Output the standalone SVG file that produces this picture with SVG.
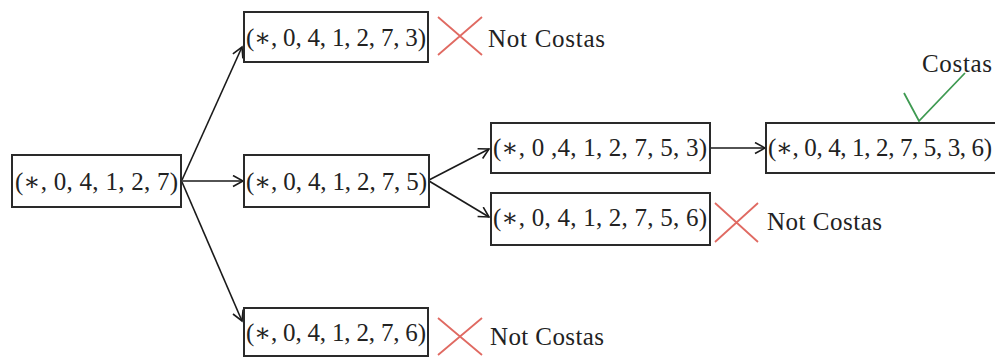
<svg xmlns="http://www.w3.org/2000/svg" width="995" height="358" viewBox="0 0 995 358">
<style>
.box{fill:#fff;stroke:#2a2a2a;stroke-width:2}
.t{font-family:"Liberation Serif","DejaVu Serif",serif;font-size:25px;fill:#222}
.lbl{font-family:"Liberation Serif","DejaVu Serif",serif;font-size:25px;fill:#222}
.edge{stroke:#1a1a1a;stroke-width:1.6;fill:none;marker-end:url(#ah)}
.x{stroke:#e06a62;stroke-width:1.8;fill:none}
.ok{stroke:#3f9a52;stroke-width:1.8;fill:none}
</style>
<defs>
<marker id="ah" markerUnits="userSpaceOnUse" markerWidth="14" markerHeight="14" refX="11" refY="6" orient="auto">
<path d="M1,0.5 L11,6 L1,11.5" fill="none" stroke="#1a1a1a" stroke-width="1.6"/>
</marker>
</defs>
<rect width="995" height="358" fill="#fff"/>
<g id="connectors">
<line class="edge" x1="182" y1="180" x2="242" y2="47"/>
<line class="edge" x1="182" y1="181" x2="243" y2="181"/>
<line class="edge" x1="182" y1="182" x2="242" y2="321"/>
<line class="edge" x1="429" y1="180" x2="489" y2="149"/>
<line class="edge" x1="429" y1="181" x2="489" y2="217"/>
<line class="edge" x1="710" y1="148" x2="765" y2="148"/>
</g>
<g id="n0">
<rect class="box" x="12" y="155" width="169" height="52"/>
<text class="t" x="15" y="190" textLength="163">(∗, 0, 4, 1, 2, 7)</text>
</g>
<g id="n1">
<rect class="box" x="244" y="12" width="184" height="50"/>
<text class="t" x="246" y="46" textLength="180">(∗, 0, 4, 1, 2, 7, 3)</text>
</g>
<g id="n2">
<rect class="box" x="244" y="155" width="185" height="52"/>
<text class="t" x="246" y="190" textLength="181">(∗, 0, 4, 1, 2, 7, 5)</text>
</g>
<g id="n3">
<rect class="box" x="244" y="308" width="184" height="48"/>
<text class="t" x="246" y="341" textLength="180">(∗, 0, 4, 1, 2, 7, 6)</text>
</g>
<g id="n4">
<rect class="box" x="491" y="123" width="219" height="50"/>
<text class="t" x="493" y="156" textLength="214">(∗, 0 ,4, 1, 2, 7, 5, 3)</text>
</g>
<g id="n5">
<rect class="box" x="491" y="193" width="219" height="52"/>
<text class="t" x="493" y="226" textLength="214">(∗, 0, 4, 1, 2, 7, 5, 6)</text>
</g>
<g id="n6">
<rect class="box" x="766" y="123" width="240" height="50"/>
<text class="t" x="768" y="156" textLength="224">(∗, 0, 4, 1, 2, 7, 5, 3, 6)</text>
</g>
<g id="mark1">
<path class="x" d="M438,17 L482,55 M482,17 L438,55"/>
<text class="lbl" x="488" y="47" textLength="117">Not Costas</text>
</g>
<g id="mark2">
<path class="x" d="M715,203 L758,242 M758,203 L715,242"/>
<text class="lbl" x="767" y="230" textLength="115">Not Costas</text>
</g>
<g id="mark3">
<path class="x" d="M438,318 L482,355 M482,318 L438,355"/>
<text class="lbl" x="490" y="345" textLength="114">Not Costas</text>
</g>
<g id="mark4">
<path class="ok" d="M904,93 L919,121 L965,73"/>
<text class="lbl" x="922" y="72" textLength="70">Costas</text>
</g>
</svg>
